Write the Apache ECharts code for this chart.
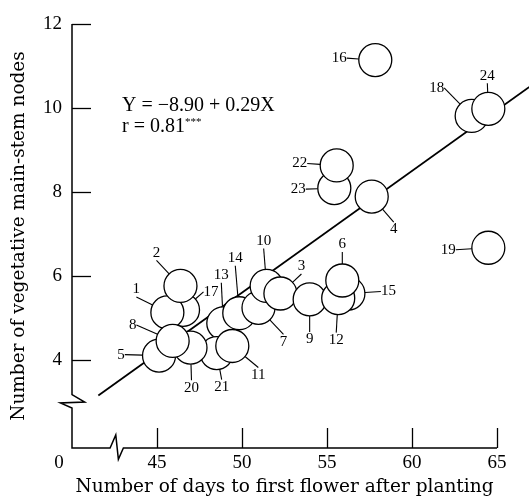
<!DOCTYPE html>
<html>
<head>
<meta charset="utf-8">
<script src="https://cdn.jsdelivr.net/npm/echarts@6/dist/echarts.min.js"></script>
<style>
  html, body { margin: 0; padding: 0; background: #fff; }
  #chart { width: 529px; height: 504px; }
</style>
</head>
<body>
<div id="chart"></div>
<script>
// point numbers, listed in drawing order (later ones sit on top)
const pointIds = [23, 22, 18, 24, 16, 4, 19, 13, 14, 7, 10, 3, 9, 15, 12, 6, 21, 11, 17, 1, 2, 5, 20, 8];
const daysToFlower = [55.43, 55.57, 63.51, 64.49, 57.84, 57.63, 64.49, 48.9, 49.84, 50.97, 51.45, 52.26,
  53.98, 56.26, 55.66, 55.9, 48.51, 49.43, 46.53, 45.61, 46.38, 45.12, 46.97, 45.92];
const mainStemNodes = [8.09, 8.63, 9.81, 9.98, 11.14, 7.89, 6.67, 4.87, 5.11, 5.24, 5.76, 5.58,
  5.44, 5.58, 5.47, 5.89, 4.16, 4.33, 5.19, 5.13, 5.76, 4.1, 4.29, 4.45];

const xTicks = [45, 50, 55, 60, 65];
const yTicks = [4, 6, 8, 10, 12];

// regression line ends
const fitDays = [41.55, 66.9];
const fitNodes = [3.15, 10.5];

const equation = "Y = \u22128.90 + 0.29X";
const corr = "r = 0.81";

// where each number label sits, relative to its circle (px)
const labelOffsets = {
  1: [-31, -23], 2: [-24, -33], 3: [21, -27], 4: [22, 33], 5: [-38, -1], 6: [0, -36],
  7: [25, 34], 8: [-40, -16], 9: [0, 40], 10: [-3, -45], 11: [26, 29], 12: [-2, 42],
  13: [-2, -48], 14: [-4, -55], 15: [40, -2], 16: [-36, -2], 17: [28, -18], 18: [-35, -28],
  19: [-40, 2], 20: [1, 40], 21: [5, 34], 22: [-37, -2], 23: [-36, 1], 24: [-1, -33]
};

const SERIF = "Liberation Serif";
const TITLE_FONT = "DejaVu Serif";

const chart = echarts.init(document.getElementById("chart"));

const points = pointIds.map((id, i) => ({ name: String(id), value: [daysToFlower[i], mainStemNodes[i]] }));

chart.setOption({
  animation: false,
  grid: { left: 72, right: 32, top: 24, bottom: 56 },
  xAxis: {
    type: "value",
    min: 40,
    max: 65,
    splitLine: { show: false },
    axisLine: { show: false },
    axisTick: { show: true, inside: true, length: 20, customValues: xTicks, lineStyle: { color: "#000", width: 1.3 } },
    axisLabel: { customValues: xTicks, margin: 6, color: "#000", fontFamily: SERIF, fontSize: 19 },
    name: "Number of days to first flower after planting",
    nameLocation: "middle",
    nameGap: 26,
    nameTextStyle: { color: "#000", fontFamily: TITLE_FONT, fontSize: 18.5 }
  },
  yAxis: {
    type: "value",
    min: 1.9,
    max: 12,
    splitLine: { show: false },
    axisLine: { show: false },
    axisTick: { show: true, inside: true, length: 19, customValues: yTicks, lineStyle: { color: "#000", width: 1.3 } },
    axisLabel: { customValues: yTicks, margin: 10, color: "#000", fontFamily: SERIF, fontSize: 19 },
    name: "Number of vegetative main-stem nodes",
    nameLocation: "middle",
    nameGap: 43,
    nameTextStyle: { color: "#000", fontFamily: TITLE_FONT, fontSize: 18.5 }
  },
  series: [
    {
      type: "scatter",
      data: points,
      symbolSize: 33,
      z: 5,
      itemStyle: { color: "#fff", borderColor: "#000", borderWidth: 1.3, opacity: 1 },
      label: {
        show: true,
        formatter: "{b}",
        color: "#000",
        fontFamily: SERIF,
        fontSize: 15,
        padding: 2
      },
      labelLine: { show: true, lineStyle: { color: "#000", width: 1.1 } },
      labelLayout: (params) => {
        const off = labelOffsets[points[params.dataIndex].name];
        return {
          x: params.rect.x + params.rect.width / 2 + off[0],
          y: params.rect.y + params.rect.height / 2 + off[1],
          align: "center",
          verticalAlign: "middle"
        };
      },
      emphasis: { disabled: true }
    }
  ]
});

// axis lines with the two breaks, the fitted line (it runs past the grid), and the loose texts
const px = (x, y) => chart.convertToPixel({ gridIndex: 0 }, [x, y]);
const axisTop = px(40, 12);
const origin = px(40, 1.9);
const xEnd = px(65, 1.9);
const yBreak = px(40, 3.17);
const xBreak = px(42.24, 1.9);
const fitPts = fitDays.map((d, i) => px(d, fitNodes[i]));

chart.setOption({
  graphic: [
    {
      type: "polyline",
      silent: true,
      z: 1,
      shape: { points: fitPts },
      style: { stroke: "#000", lineWidth: 1.8, fill: null }
    },
    {
      type: "polyline",
      silent: true,
      z: 1,
      shape: {
        points: [
          axisTop, yBreak,
          [yBreak[0] + 12.7, yBreak[1] + 7.3],
          [yBreak[0] - 11.6, yBreak[1] + 8.3],
          [yBreak[0], yBreak[1] + 13.3],
          origin, xBreak,
          [xBreak[0] + 5.7, xBreak[1] - 13],
          [xBreak[0] + 8.3, xBreak[1] + 11.3],
          [xBreak[0] + 13.3, xBreak[1]],
          xEnd
        ]
      },
      style: { stroke: "#000", lineWidth: 1.5, fill: null }
    },
    {
      type: "text",
      silent: true,
      x: origin[0] - 13,
      y: origin[1] + 15,
      style: { text: "0", fontFamily: SERIF, fontSize: 19, fill: "#000", align: "center", verticalAlign: "middle" }
    },
    {
      type: "text",
      silent: true,
      x: 122,
      y: 96,
      style: { text: equation, fontFamily: SERIF, fontSize: 20, fill: "#000" }
    },
    {
      type: "text",
      silent: true,
      x: 122,
      y: 117,
      style: {
        text: "{a|" + corr + "}{b|***}",
        fill: "#000",
        rich: {
          a: { fontFamily: SERIF, fontSize: 20, fill: "#000" },
          b: { fontFamily: SERIF, fontSize: 11, fill: "#000", verticalAlign: "top" }
        }
      }
    }
  ]
});
</script>
</body>
</html>
